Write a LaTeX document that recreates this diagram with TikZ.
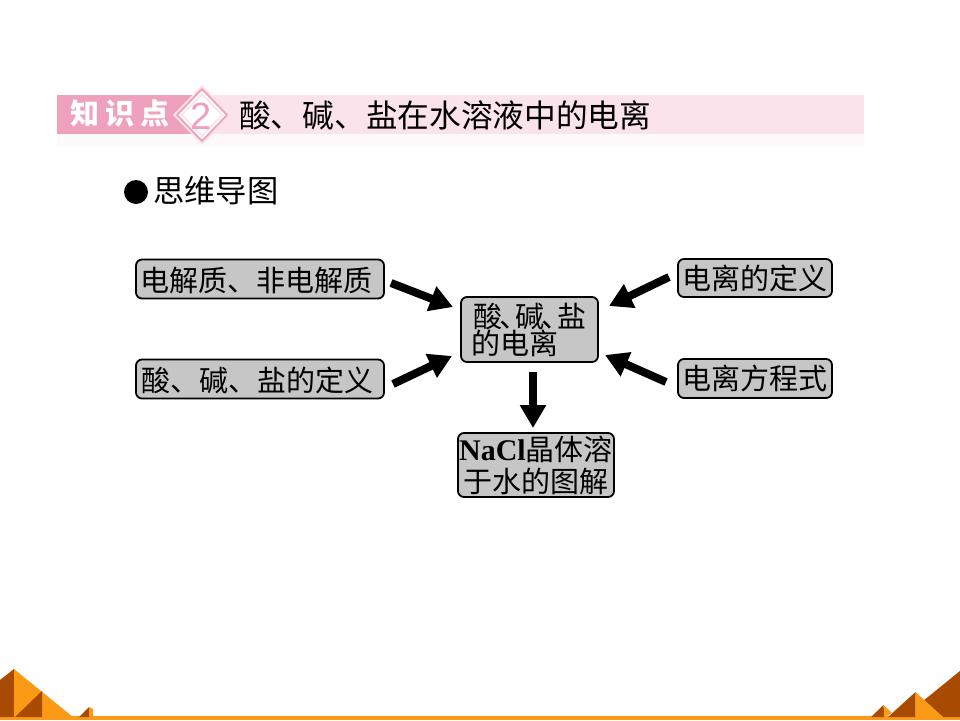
\documentclass[tikz,border=0pt]{standalone}
\usepackage{fontspec}
\setmainfont{Noto Sans CJK SC}
\newfontfamily\latinbold{Liberation Serif Bold}
\newfontfamily\digitfont{Liberation Sans}
\usetikzlibrary{arrows.meta}
\definecolor{bandlight}{HTML}{FBE3EB}
\definecolor{bandfade}{HTML}{FEFAFB}
\definecolor{banddark}{HTML}{EFA0BC}
\definecolor{boxgray}{HTML}{C6C6C6}
\definecolor{hillorange}{HTML}{FB9A14}
\definecolor{hilldark}{HTML}{A84A00}
\tikzset{
  x=1pt,y=-1pt,
  conceptbox/.style={draw=black,line width=1.8pt,fill=boxgray,rounded corners=6pt,
    inner sep=0pt,align=center,font=\fontsize{29}{30}\selectfont,text=black},
  bigarrow/.style={draw=black,line width=8pt,
    -{Triangle[length=23pt,width=25pt,fill=black]}},
}
\begin{document}
\begin{tikzpicture}
\useasboundingbox (0,0) rectangle (960,720);
\fill[white] (0,0) rectangle (960,720);

% heading band
\fill[bandfade] (57,134) rectangle (864,147);
\fill[bandlight] (57,95) rectangle (864,134);
\fill[banddark] (57,95) rectangle (196,134);
% numbered diamond badge
\fill[bandlight] (202,85) -- (231,115) -- (202,145) -- (173,115) -- cycle;
\draw[banddark,line width=1.8pt,fill=white,line join=round] (202,89) -- (227,115) -- (202,141) -- (177,115) -- cycle;
\draw[bandlight,line width=1.5pt,fill=white,line join=round] (202,94) -- (222,115) -- (202,136) -- (182,115) -- cycle;
\node[text=white,anchor=center,inner sep=0pt,font=\fontsize{29}{29}\selectfont\bfseries] (tag) at (120,113) {知\kern 6pt 识\kern 6pt 点};
\node[text=banddark,inner sep=0pt,font=\fontsize{38}{38}\selectfont\digitfont] (num) at (201,116) {2};
\node[anchor=west,inner sep=0pt,font=\fontsize{31.7}{32}\selectfont] (title) at (239,115) {酸、碱、盐在水溶液中的电离};

% section label
\fill[black] (136,192) circle (12);
\node[anchor=west,inner sep=0pt,font=\fontsize{31.3}{32}\selectfont] (section) at (153,191) {思维导图};

% concept boxes
\node[conceptbox,minimum width=248pt,minimum height=39pt,text depth=0pt] (a) at (260,279) {电解质、非电解质\kern 7pt};
\node[conceptbox,minimum width=248pt,minimum height=39pt,text depth=0pt] (b) at (260,379) {酸、碱、盐的定义\kern 5pt};
\node[conceptbox,minimum width=154pt,minimum height=38pt] (c) at (755,278) {电离的定义};
\node[conceptbox,minimum width=154pt,minimum height=39pt] (d) at (755,378.5) {电离方程式};
\node[conceptbox,minimum width=137pt,minimum height=65pt,font=\fontsize{29}{27}\selectfont] (m) at (529.5,329.5)
  {酸\kern-3pt、\kern-13pt 碱\kern-3pt、\kern-13pt 盐\\的电离\kern 29pt};
\node[conceptbox,minimum width=156pt,minimum height=64pt,font=\fontsize{29}{32}\selectfont] (n) at (536,465)
  {{\latinbold\fontsize{30}{32}\selectfont NaCl}晶体溶\\于水的图解};

% arrow ends beside the boxes
\coordinate (a1) at (391,283);
\coordinate (a2) at (453,307);
\coordinate (b1) at (393,384);
\coordinate (b2) at (452,356);
\coordinate (c1) at (669,277);
\coordinate (c2) at (609,306);
\coordinate (d1) at (666,382);
\coordinate (d2) at (605,355);
\coordinate (m1) at (533,372);
\coordinate (n1) at (533,428);
\draw[bigarrow] (a1) -- (a2);
\draw[bigarrow] (b1) -- (b2);
\draw[bigarrow] (c1) -- (c2);
\draw[bigarrow] (d1) -- (d2);
\draw[bigarrow] (m1) -- (n1);

% footer strip with pyramids
\fill[hillorange] (0,716) rectangle (960,720);
\fill[hilldark] (0,680) -- (14,669) -- (14,717) -- (0,717) -- cycle;
\fill[hillorange] (14,669) -- (73,717) -- (14,717) -- cycle;
\fill[hilldark] (42,691) -- (42,717) -- (15,717) -- cycle;
\fill[hilldark] (89,707) -- (89,717) -- (79,717) -- cycle;
\fill[hillorange] (89,707) -- (93,709) -- (93,717) -- (89,717) -- cycle;

\fill[hilldark] (960,671) -- (923,701) -- (943,717) -- (960,717) -- cycle;
\fill[hilldark] (915.5,692) -- (915.5,717) -- (888,717) -- cycle;
\fill[hillorange] (915.5,692) -- (943,717) -- (915.5,717) -- cycle;
\fill[hilldark] (883.5,705) -- (884.5,717) -- (871,717) -- cycle;
\fill[hillorange] (883.5,705) -- (892,713) -- (885,717) -- (884.5,717) -- cycle;
\end{tikzpicture}
\end{document}
